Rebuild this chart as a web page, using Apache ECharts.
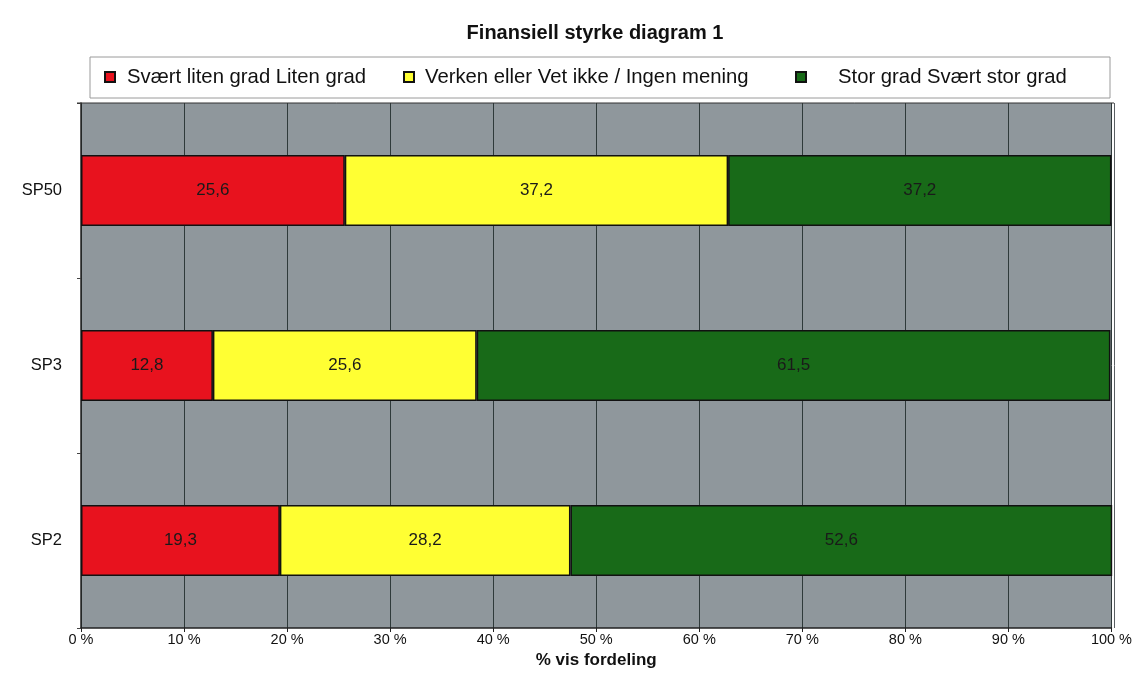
<!DOCTYPE html>
<html>
<head>
<meta charset="utf-8">
<script src="https://cdn.jsdelivr.net/npm/echarts@6/dist/echarts.min.js"></script>
<style>
  html, body { margin: 0; padding: 0; background: #ffffff; }
  #chart { width: 1135px; height: 691px; }
</style>
</head>
<body>
<div id="chart"></div>
<script>
// Survey rows, drawn bottom to top
const categories = ['SP2', 'SP3', 'SP50'];
const seriesNames = ['Svært liten grad Liten grad', 'Verken eller Vet ikke / Ingen mening', 'Stor grad Svært stor grad'];
const lowValues = [19.3, 12.8, 25.6];
const midValues = [28.2, 25.6, 37.2];
const highValues = [52.6, 61.5, 37.2];
const xTicks = [0, 10, 20, 30, 40, 50, 60, 70, 80, 90, 100];

const colors = ['#e8121e', '#ffff33', '#186a18'];
const font = 'Liberation Sans, Arial, sans-serif';

const chart = echarts.init(document.getElementById('chart'));

function barSeries(name, values, color) {
  return {
    name: name,
    type: 'bar',
    stack: 'total',
    barWidth: 71,
    data: values,
    itemStyle: { color: color, borderColor: '#111111', borderWidth: 1.5 },
    label: {
      show: true,
      position: 'inside',
      color: '#1a1a1a',
      fontFamily: font,
      fontSize: 17,
      formatter: p => String(p.value).replace('.', ',')
    },
    emphasis: { disabled: true }
  };
}

function legendAt(left, name, gap) {
  return {
    left: left,
    top: 67,
    data: [name],
    itemWidth: 10,
    itemHeight: 10,
    itemGap: 0,
    padding: 0,
    icon: 'rect',
    textStyle: { fontFamily: font, fontSize: 20.3, color: '#111111', padding: [0, 0, 0, gap] },
    selectedMode: false
  };
}

chart.setOption({
  animation: false,
  backgroundColor: '#ffffff',
  title: {
    text: 'Finansiell styrke diagram 1',
    left: 590,
    textAlign: 'center',
    top: 18,
    textStyle: { fontFamily: font, fontSize: 20, fontWeight: 'bold', color: '#111111' }
  },
  graphic: [
    {
      type: 'rect',
      shape: { x: 90, y: 57, width: 1020, height: 41 },
      style: { fill: '#ffffff', stroke: '#9a9a9a', lineWidth: 1 },
      z: -1
    },
    {
      type: 'line',
      shape: { x1: 77, y1: 103, x2: 1114, y2: 103 },
      style: { stroke: '#333333', lineWidth: 1 },
      z: 10
    },
    {
      type: 'line',
      shape: { x1: 1114.5, y1: 103, x2: 1114.5, y2: 628 },
      style: { stroke: '#5a5f63', lineWidth: 1 },
      z: 10
    }
  ],
  legend: [
    legendAt(104, seriesNames[0], 7),
    legendAt(403, seriesNames[1], 6),
    legendAt(795, seriesNames[2], 27)
  ],
  grid: {
    left: 81,
    right: 21,
    top: 103,
    bottom: 63,
    show: true,
    backgroundColor: '#8f979c',
    borderWidth: 0
  },
  xAxis: {
    type: 'value',
    min: xTicks[0],
    max: xTicks[xTicks.length - 1],
    interval: 10,
    name: '% vis fordeling',
    nameLocation: 'middle',
    nameGap: 18,
    nameTextStyle: { fontFamily: font, fontSize: 17, fontWeight: 'bold', color: '#111111' },
    axisLine: { show: true, lineStyle: { color: '#222222', width: 1.5 } },
    axisTick: { show: true, length: 4, lineStyle: { color: '#222222' } },
    axisLabel: { fontFamily: font, fontSize: 14.5, color: '#111111', margin: 4, formatter: v => v + ' %' },
    splitLine: { show: true, lineStyle: { color: '#2f3a3a', width: 1 } }
  },
  yAxis: {
    type: 'category',
    data: categories,
    axisLine: { show: true, lineStyle: { color: '#222222', width: 1.5 } },
    axisTick: { show: true, length: 4, lineStyle: { color: '#444444' } },
    axisLabel: { fontFamily: font, fontSize: 16.5, color: '#111111', margin: 19 },
    splitLine: { show: false }
  },
  series: [
    barSeries(seriesNames[0], lowValues, colors[0]),
    barSeries(seriesNames[1], midValues, colors[1]),
    barSeries(seriesNames[2], highValues, colors[2])
  ]
});
</script>
</body>
</html>
